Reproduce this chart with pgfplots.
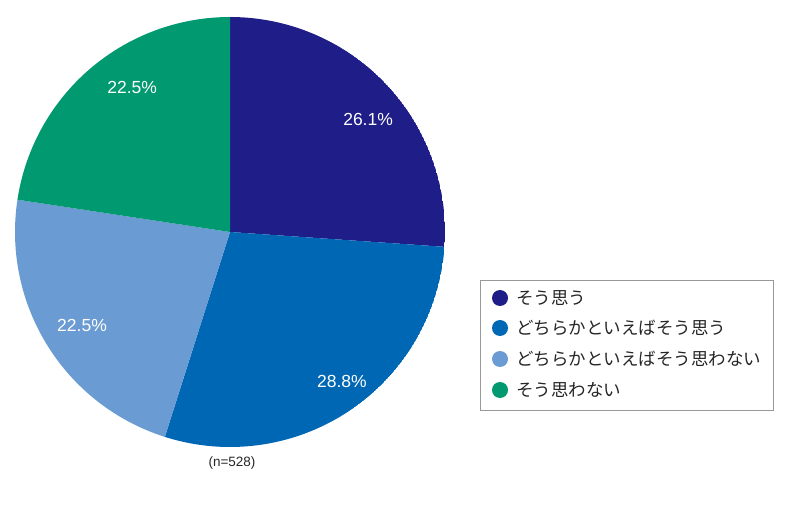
\documentclass[border=0pt]{standalone}
\usepackage{fontspec}
\setmainfont{Liberation Sans}
\newfontfamily\jp{Noto Sans CJK JP}
\usepackage{pgfplots}
\pgfplotsset{compat=1.18}
\usepgfplotslibrary{polar}
\definecolor{cA}{RGB}{31,30,137}
\definecolor{cB}{RGB}{0,103,180}
\definecolor{cC}{RGB}{106,155,210}
\definecolor{cD}{RGB}{0,153,112}
% shares (%)
\def\vA{26.1}\def\vB{28.8}\def\vC{22.5}\def\vD{22.5}
\pgfmathsetmacro\tA{90}
\pgfmathsetmacro\tB{\tA-3.6*\vA}
\pgfmathsetmacro\tC{\tB-3.6*\vB}
\pgfmathsetmacro\tD{\tC-3.6*\vC}
\pgfmathsetmacro\tE{-270}
\begin{document}
\begin{tikzpicture}
\path[use as bounding box] (0,0) rectangle (800bp,506bp);
\begin{polaraxis}[
  at={(230bp,274bp)}, anchor=center,
  hide axis, scale only axis, width=430bp, height=430bp,
  ymin=0, ymax=1,
]
\addplot[fill=cA, draw=none, domain=\tA:\tB, samples=100] {1} -- (axis cs:0,0) -- cycle;
\addplot[fill=cB, draw=none, domain=\tB:\tC, samples=100] {1} -- (axis cs:0,0) -- cycle;
\addplot[fill=cC, draw=none, domain=\tC:\tD, samples=100] {1} -- (axis cs:0,0) -- cycle;
\addplot[fill=cD, draw=none, domain=\tD:\tE, samples=100] {1} -- (axis cs:0,0) -- cycle;
\begin{scope}[every node/.style={text=white, font=\fontsize{17.5bp}{20bp}\selectfont}]
\node at (axis cs:39.3,0.83) {26.1\%};
\node at (axis cs:-53.1,0.867) {28.8\%};
\node at (axis cs:212.4,0.815) {22.5\%};
\node at (axis cs:124.2,0.81) {22.5\%};
\end{scope}
\end{polaraxis}
\node[text=black!85, font=\fontsize{13.5bp}{16bp}\selectfont] at (232bp,43bp) {(n=528)};
% legend
\draw[black!40, line width=0.8pt] (480bp,96bp) rectangle (773bp,226bp);
\begin{scope}[every node/.style={anchor=west, inner sep=0pt, text=black!85, font=\jp\fontsize{17.5bp}{20bp}\selectfont}]
\fill[cA] (500bp,208bp) circle (8bp);
\node at (516bp,208bp) {そう思う};
\fill[cB] (500bp,178bp) circle (8bp);
\node at (516bp,178bp) {どちらかといえばそう思う};
\fill[cC] (500bp,147bp) circle (8bp);
\node at (516bp,147bp) {どちらかといえばそう思わない};
\fill[cD] (500bp,116bp) circle (8bp);
\node at (516bp,116bp) {そう思わない};
\end{scope}
\end{tikzpicture}
\end{document}
